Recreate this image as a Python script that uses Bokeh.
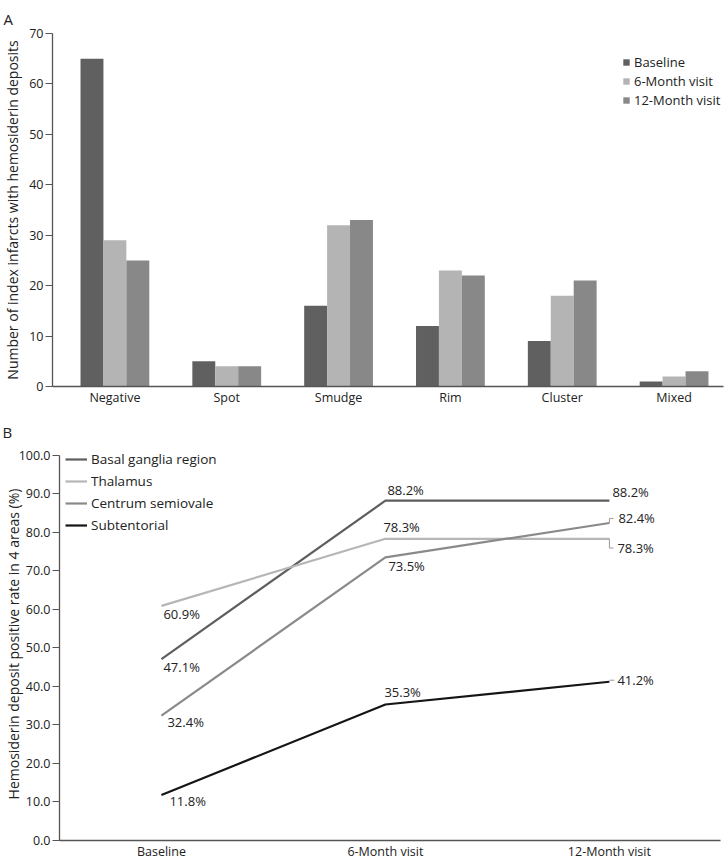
from bokeh.plotting import figure
from bokeh.layouts import column, row
from bokeh.models import (ColumnDataSource, FixedTicker, NumeralTickFormatter,
                          Legend, LegendItem, Range1d)
from bokeh.embed import file_html
from bokeh.resources import INLINE
from bokeh.core.properties import value

FONT = "Open Sans"
TXT = "#222222"
AXIS = "#555555"

# ---------------- Panel A data ----------------
categories = ["Negative", "Spot", "Smudge", "Rim", "Cluster", "Mixed"]
visits = ["Baseline", "6-Month visit", "12-Month visit"]
baseline_counts = [65, 5, 16, 12, 9, 1]
month6_counts = [29, 4, 32, 23, 18, 2]
month12_counts = [25, 4, 33, 22, 21, 3]
a_yticks = [0, 10, 20, 30, 40, 50, 60, 70]

# ---------------- Panel B data ----------------
timepoints = ["Baseline", "6-Month visit", "12-Month visit"]
regions = ["Basal ganglia region", "Thalamus", "Centrum semiovale", "Subtentorial"]
basal_ganglia = [47.1, 88.2, 88.2]
thalamus = [60.9, 78.3, 78.3]
centrum_semiovale = [32.4, 73.5, 82.4]
subtentorial = [11.8, 35.3, 41.2]
b_yticks = [0, 10, 20, 30, 40, 50, 60, 70, 80, 90, 100]

bar_colors = ["#606060", "#b4b4b4", "#888888"]
line_colors = ["#5e5e5e", "#b6b6b6", "#8a8a8a", "#151515"]


def style_axes(p):
    p.xgrid.visible = False
    p.ygrid.visible = False
    p.outline_line_color = None
    for ax in (p.xaxis[0], p.yaxis[0]):
        ax.axis_line_color = AXIS
        ax.axis_line_width = 1.3
        ax.major_tick_line_color = AXIS
        ax.minor_tick_line_color = None
        ax.major_tick_in = 0
        ax.major_label_text_font = FONT
        ax.major_label_text_font_size = "12.5px"
        ax.major_label_text_color = TXT
        ax.axis_label_text_font = FONT
        ax.axis_label_text_font_size = "14px"
        ax.axis_label_text_font_style = "normal"
        ax.axis_label_text_color = TXT
    p.xaxis.major_tick_out = 0
    p.xaxis.major_label_standoff = 2
    p.yaxis.major_tick_out = 7
    p.yaxis.major_label_standoff = 2
    p.title.text_font = FONT
    p.title.text_font_size = "15px"
    p.title.text_font_style = "normal"
    p.title.text_color = TXT
    p.title.align = "left"


# ================= Panel A =================
n = len(categories)
xs = list(range(n))
p1 = figure(width=725, height=408, x_range=Range1d(-0.558, n - 0.558),
            y_range=Range1d(0, 70), output_backend="svg", toolbar_location=None,
            min_border_left=51, min_border_right=2, min_border_top=33,
            min_border_bottom=21, title="A")
style_axes(p1)
p1.title.offset = -49
p1.title.standoff = 9
p1.yaxis.axis_label_standoff = 4
p1.xaxis.ticker = FixedTicker(ticks=xs)
p1.xaxis.major_label_overrides = {i: c for i, c in enumerate(categories)}
p1.yaxis.ticker = FixedTicker(ticks=a_yticks)
p1.yaxis.axis_label = "Number of index infarcts with hemosiderin deposits"

bw = 0.205
series_a = [baseline_counts, month6_counts, month12_counts]
a_items = []
for k, (vals, col, name) in enumerate(zip(series_a, bar_colors, visits)):
    off = (k - 1) * bw
    src = ColumnDataSource(dict(x=[x + off for x in xs], top=vals))
    r = p1.vbar(x="x", top="top", width=bw, source=src, fill_color=col, line_color=None)
    a_items.append(LegendItem(label=name, renderers=[r]))

leg1 = Legend(items=a_items, location=(570, 277), orientation="vertical",
              glyph_width=8, glyph_height=8, label_height=19, label_standoff=4,
              spacing=0, padding=0, margin=0, border_line_color=None,
              background_fill_alpha=0, label_text_font=FONT,
              label_text_font_size="13px", label_text_color=TXT)
p1.add_layout(leg1)

# ================= Panel B =================
nt = len(timepoints)
tx = list(range(nt))
p2 = figure(width=725, height=454, x_range=Range1d(-0.455, 2.496),
            y_range=Range1d(0, 102), output_backend="svg", toolbar_location=None,
            min_border_left=59, min_border_right=5, min_border_top=39,
            min_border_bottom=19, title="B")
style_axes(p2)
p2.title.offset = -57
p2.title.standoff = 12
p2.yaxis.axis_label_standoff = -7
p2.yaxis.bounds = (b_yticks[0], b_yticks[-1])
p2.xaxis.ticker = FixedTicker(ticks=tx)
p2.xaxis.major_label_overrides = {i: t for i, t in enumerate(timepoints)}
p2.yaxis.ticker = FixedTicker(ticks=b_yticks)
p2.yaxis.formatter = NumeralTickFormatter(format="0.0")
p2.yaxis.axis_label = "Hemosiderin deposit positive rate in 4 areas (%)"

series_b = [basal_ganglia, thalamus, centrum_semiovale, subtentorial]
b_items = []
for vals, col, name in zip(series_b, line_colors, regions):
    r = p2.line(x=tx, y=vals, line_color=col, line_width=2.2)
    b_items.append(LegendItem(label=name, renderers=[r]))

# data labels (pixel offsets relative to each point: styling only)
label_dx = [[2, 2, 3], [2, -2, 8], [6, 3, 9], [8, -1, 8]]
label_dy = [[8, -11, -9], [8, -12, 9], [6, 9, -5], [6, -12.5, -2]]
lx, ly, lt, ox, oy = [], [], [], [], []
for s, vals in enumerate(series_b):
    for i, v in enumerate(vals):
        lx.append(tx[i]); ly.append(v); lt.append(f"{v:.1f}%")
        ox.append(label_dx[s][i]); oy.append(label_dy[s][i])
lsrc = ColumnDataSource(dict(x=lx, y=ly, text=lt, xo=ox, yo=oy))
p2.text(x="x", y="y", text="text", x_offset="xo", y_offset="yo", source=lsrc,
        text_font=value(FONT), text_font_size="13px", text_color=TXT,
        text_align="left", text_baseline="middle")

# leader lines at the last time point
last = tx[-1]
ldx = 0.018
lead_xs = [[last, last, last + ldx], [last, last, last + ldx], [last, last + 0.022]]
lead_ys = [[thalamus[-1], thalamus[-1] - 2.4, thalamus[-1] - 2.4],
           [centrum_semiovale[-1], centrum_semiovale[-1] + 1.2, centrum_semiovale[-1] + 1.2],
           [subtentorial[-1] + 0.4, subtentorial[-1] + 0.4]]
p2.multi_line(xs=lead_xs, ys=lead_ys, line_color="#9a9a9a", line_width=1)

leg2 = Legend(items=b_items, location=(6, 304), orientation="vertical",
              glyph_width=22, glyph_height=22, label_height=22, label_standoff=4,
              spacing=0, padding=0, margin=0, border_line_color=None,
              background_fill_alpha=0, label_text_font=FONT,
              label_text_font_size="13.5px", label_text_color=TXT)
p2.add_layout(leg2)

layout = column(row(p1), row(p2), spacing=0)
open("out.html", "w").write(file_html(layout, INLINE))
